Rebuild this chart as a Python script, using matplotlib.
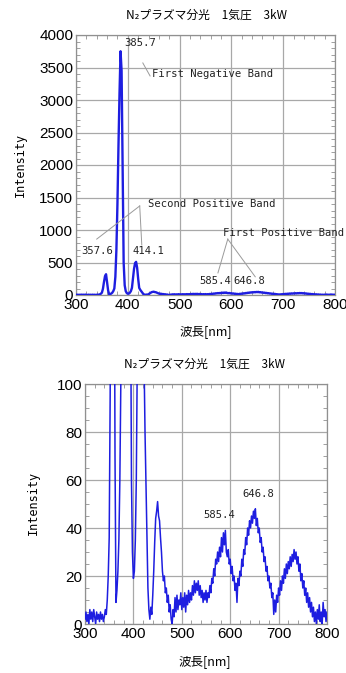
#!/usr/bin/env python3
"""N2 plasma emission spectrum at 1 atm, 3 kW: full scale and zoomed view."""

import matplotlib
matplotlib.use("Agg")
import matplotlib.pyplot as plt
import matplotlib.ticker as ticker
import numpy as np

# ── Data (2 nm steps from 300 to 800 nm) ─────────────────────────────────
WL_START, WL_STOP, WL_STEP = 300, 800, 2
INTENSITY = [
    2, 5, 1, 4, 0, 6, 2, 5, 1, 6,                    # 300
    3, 0, 5, 2, 4, 1, 5, 2, 4, 1,                    # 320
    3, 6, 4, 10, 20, 36, 95, 200, 290, 320,          # 340
    190, 70, 9, 14, 22, 35, 60, 100, 280, 700,       # 360
    1400, 2300, 3100, 3750, 3450, 2000, 500, 150, 60, 30,  # 380
    19, 22, 35, 60, 110, 250, 400, 490, 510, 420,    # 400
    250, 110, 80, 58, 35, 15, 6, 2, 7, 4,            # 420
    12, 22, 34, 44, 47, 51, 45, 43, 36, 30,          # 440
    22, 18, 20, 13, 15, 9, 12, 5, 8, 2,              # 460
    0, 6, 3, 11, 5, 12, 6, 10, 8, 13,                # 480
    6, 11, 7, 13, 5, 12, 8, 14, 9, 13,               # 500
    10, 16, 12, 18, 13, 17, 14, 18, 12, 16,          # 520
    11, 14, 9, 13, 10, 14, 9, 13, 11, 16,            # 540
    13, 19, 17, 23, 20, 27, 25, 30, 26, 32,          # 560
    28, 36, 30, 38, 33, 39, 30, 28, 31, 25,          # 580
    27, 21, 24, 18, 20, 14, 17, 9, 19, 16,           # 600
    22, 20, 27, 24, 31, 29, 36, 33, 40, 37,          # 620
    43, 40, 45, 42, 47, 44, 48, 41, 44, 38,          # 640
    40, 34, 36, 30, 32, 26, 28, 22, 24, 18,          # 660
    20, 15, 17, 11, 13, 4, 10, 5, 12, 9,             # 680
    15, 12, 18, 14, 20, 17, 23, 19, 25, 21,          # 700
    26, 23, 28, 24, 29, 26, 31, 27, 30, 25,          # 720
    28, 22, 25, 18, 21, 15, 18, 12, 15, 9,           # 740
    13, 7, 11, 5, 9, 3, 7, 1, 5, 0,                  # 760
    6, 2, 8, 1, 5, 0, 9, 3, 6, 1,                    # 780
    5,                                               # 800
]

TITLE = "N\u2082プラズマ分光\u30001気圧\u30003kW"
XLABEL = "波長[nm]"
YLABEL = "Intensity"

# ── Style ────────────────────────────────────────────────────────────────
LINE_COLOR = "#1e1ee0"
GRID_COLOR = "#a8a8a8"
SPINE_COLOR = "#909090"
LEADER_COLOR = "#9a9a9a"
JP_FONT = ["Noto Sans CJK JP", "DejaVu Sans"]
MONO_FONT = ["DejaVu Sans Mono", "Liberation Mono"]
TICK_FONT = ["Liberation Sans Narrow", "Liberation Sans", "DejaVu Sans"]

plt.rcParams.update({
    "font.family": TICK_FONT,
    "font.size": 11,
})


def style_axes(ax, xmin, xmax, ymin, ymax, ymajor, yminor):
    ax.set_xlim(xmin, xmax)
    ax.set_ylim(ymin, ymax)
    ax.xaxis.set_major_locator(ticker.MultipleLocator(100))
    ax.xaxis.set_minor_locator(ticker.MultipleLocator(20))
    ax.yaxis.set_major_locator(ticker.MultipleLocator(ymajor))
    ax.yaxis.set_minor_locator(ticker.MultipleLocator(yminor))
    ax.grid(which="major", color=GRID_COLOR, lw=0.9, zorder=0)
    ax.tick_params(which="both", direction="in", top=True, right=True,
                   color=SPINE_COLOR)
    ax.tick_params(which="major", length=0, pad=2, labelsize=11)
    ax.tick_params(which="minor", length=3, width=0.6)
    for sp in ax.spines.values():
        sp.set_color(SPINE_COLOR)
        sp.set_linewidth(0.9)


def leader(ax, p0, p1):
    ax.plot([p0[0], p1[0]], [p0[1], p1[1]], color=LEADER_COLOR, lw=0.7,
            zorder=4, clip_on=False)


def label(ax, x, y, s):
    ax.text(x, y, s, ha="left", va="center", fontsize=7.6,
            family=MONO_FONT, color="#222", zorder=5, clip_on=False)


wl = np.arange(WL_START, WL_STOP + 1, WL_STEP)
inten = np.array(INTENSITY, dtype=float)

fig = plt.figure(figsize=(3.46, 6.73), dpi=100)
W, H = 346, 673


def px_axes(left, top, right, bottom):
    return fig.add_axes([left / W, 1 - bottom / H, (right - left) / W, (bottom - top) / H])


# ── Top: full scale ──────────────────────────────────────────────────────
ax1 = px_axes(76, 35, 335, 295)
ax1.plot(wl, inten, color=LINE_COLOR, lw=1.7, zorder=3)
style_axes(ax1, 300, 800, 0, 4000, 500, 100)

label(ax1, 394, 3880, "385.7")
leader(ax1, (429, 3570), (443, 3370))
label(ax1, 446, 3400, "First Negative Band")

label(ax1, 439, 1400, "Second Positive Band")
leader(ax1, (423, 1370), (340, 860))
leader(ax1, (423, 1370), (427, 770))
label(ax1, 311, 680, "357.6")
label(ax1, 410, 680, "414.1")

label(ax1, 584, 955, "First Positive Band")
leader(ax1, (593, 860), (574, 340))
leader(ax1, (593, 860), (646, 280))
label(ax1, 539, 215, "585.4")
label(ax1, 603, 215, "646.8")

fig.text(206 / W, 1 - 15 / H, TITLE, ha="center", va="center",
         fontsize=8.5, family=JP_FONT)
fig.text(20 / W, 1 - 165 / H, YLABEL, ha="center", va="center",
         rotation=90, fontsize=8.5, family=MONO_FONT)
fig.text(206 / W, 1 - 332 / H, XLABEL, ha="center", va="center",
         fontsize=9, family=JP_FONT)

# ── Bottom: zoomed to 0-100 ──────────────────────────────────────────────
ax2 = px_axes(85, 384, 327, 624)
ax2.plot(wl, inten, color=LINE_COLOR, lw=1.1, zorder=3)
style_axes(ax2, 300, 800, 0, 100, 20, 5)

label(ax2, 545, 45.5, "585.4")
label(ax2, 626, 54, "646.8")

fig.text(205 / W, 1 - 364 / H, TITLE, ha="center", va="center",
         fontsize=8.5, family=JP_FONT)
fig.text(33 / W, 1 - 503 / H, YLABEL, ha="center", va="center",
         rotation=90, fontsize=8.5, family=MONO_FONT)
fig.text(205 / W, 1 - 662 / H, XLABEL, ha="center", va="center",
         fontsize=9, family=JP_FONT)

fig.savefig("out.png", dpi=100, facecolor="white")
